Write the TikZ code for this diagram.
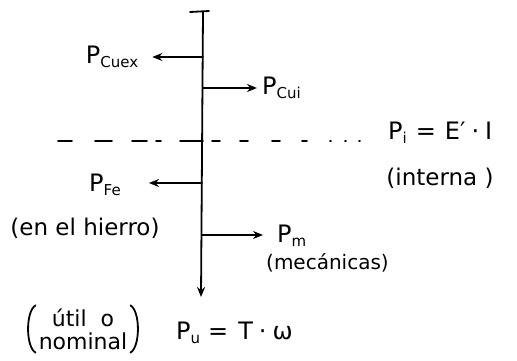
\documentclass[tikz,border=0pt]{standalone}
\usepackage{fontspec}
\setmainfont{DejaVu Sans}
\usetikzlibrary{arrows.meta}
\newcommand\mysub[1]{\raisebox{-4pt}{\fontsize{15}{15}\selectfont #1}}
\begin{document}
\begin{tikzpicture}[x=1pt,y=1pt,
  hand/.style={line width=1.8pt, line cap=round},
  arr/.style={hand, -{Stealth[length=10pt,width=8pt]}},
  lbl/.style={inner sep=0pt, font=\fontsize{24}{28}\selectfont},
  par/.style={inner sep=0pt, font=\fontsize{23}{27}\selectfont}]
\useasboundingbox (0,0) rectangle (517,360);
% main vertical flow
\coordinate (top) at (203,348);
\coordinate (bot) at (201,63);
\coordinate (tl) at (190,348);
\coordinate (tr) at (209,349);
\coordinate (b1) at (203,303);
\coordinate (b2) at (203,272);
\coordinate (b4) at (202,177);
\coordinate (b5) at (202,125);
\draw[hand] (tl) -- (tr);
\draw[arr] (top) -- (bot);
% labels
\node[lbl] (cuex) at (112,303) {P\mysub{Cuex}};
\node[lbl, anchor=west] (cui) at (262,272) {P\mysub{Cui}};
\node[lbl] (fe) at (105,175) {P\mysub{Fe}};
\node[par] (fe2) at (85,132) {(en el hierro)};
\node[lbl, anchor=west] (pm) at (277,124) {P\mysub{m}};
\node[par, font=\fontsize{20}{24}\selectfont, anchor=west] (pm2) at (266,97) {(mecánicas)};
\node[lbl, anchor=west] (pi) at (388,227) {P\mysub{i}\hspace{9pt}=\hspace{9pt}E′\hspace{6pt}·\hspace{6pt}I};
\node[par] (pi2) at (440,182) {(interna )};
\node[lbl, anchor=west] (pu) at (176,27) {P\mysub{u}\hspace{8pt}=\hspace{10pt}T\hspace{6pt}·\hspace{6pt}ω};
\node[inner sep=0pt, align=center, font=\fontsize{22}{23}\selectfont] (util) at (83,31)
  {útil\hspace{14pt}o\\nominal};
% parentheses around (util)
\draw[hand] ([shift={(-3,3)}]util.north west) .. controls ([shift={(-13,-3)}]util.north west) and ([shift={(-13,3)}]util.south west) .. ([shift={(-3,-3)}]util.south west);
\draw[hand] ([shift={(3,3)}]util.north east) .. controls ([shift={(13,-3)}]util.north east) and ([shift={(13,3)}]util.south east) .. ([shift={(3,-3)}]util.south east);
% branch arrows
\draw[arr, shorten >=14pt] (b1) -- (b1 -| cuex.east);
\draw[arr, shorten >=5pt] (b2) -- (b2 -| cui.west);
\draw[arr, shorten >=28pt] (b4) -- (b4 -| fe.east);
\draw[arr, shorten >=14pt] (b5) -- (b5 -| pm.west);
% dashed separation line
\foreach \a/\b in {58/72, 95/112, 132/147, 156/161, 180/203, 212/220, 240/248, 272/280, 302/307, 330/331, 345/346, 359/360}
  \draw[hand] (\a,219) -- (\b,219);
\end{tikzpicture}
\end{document}
